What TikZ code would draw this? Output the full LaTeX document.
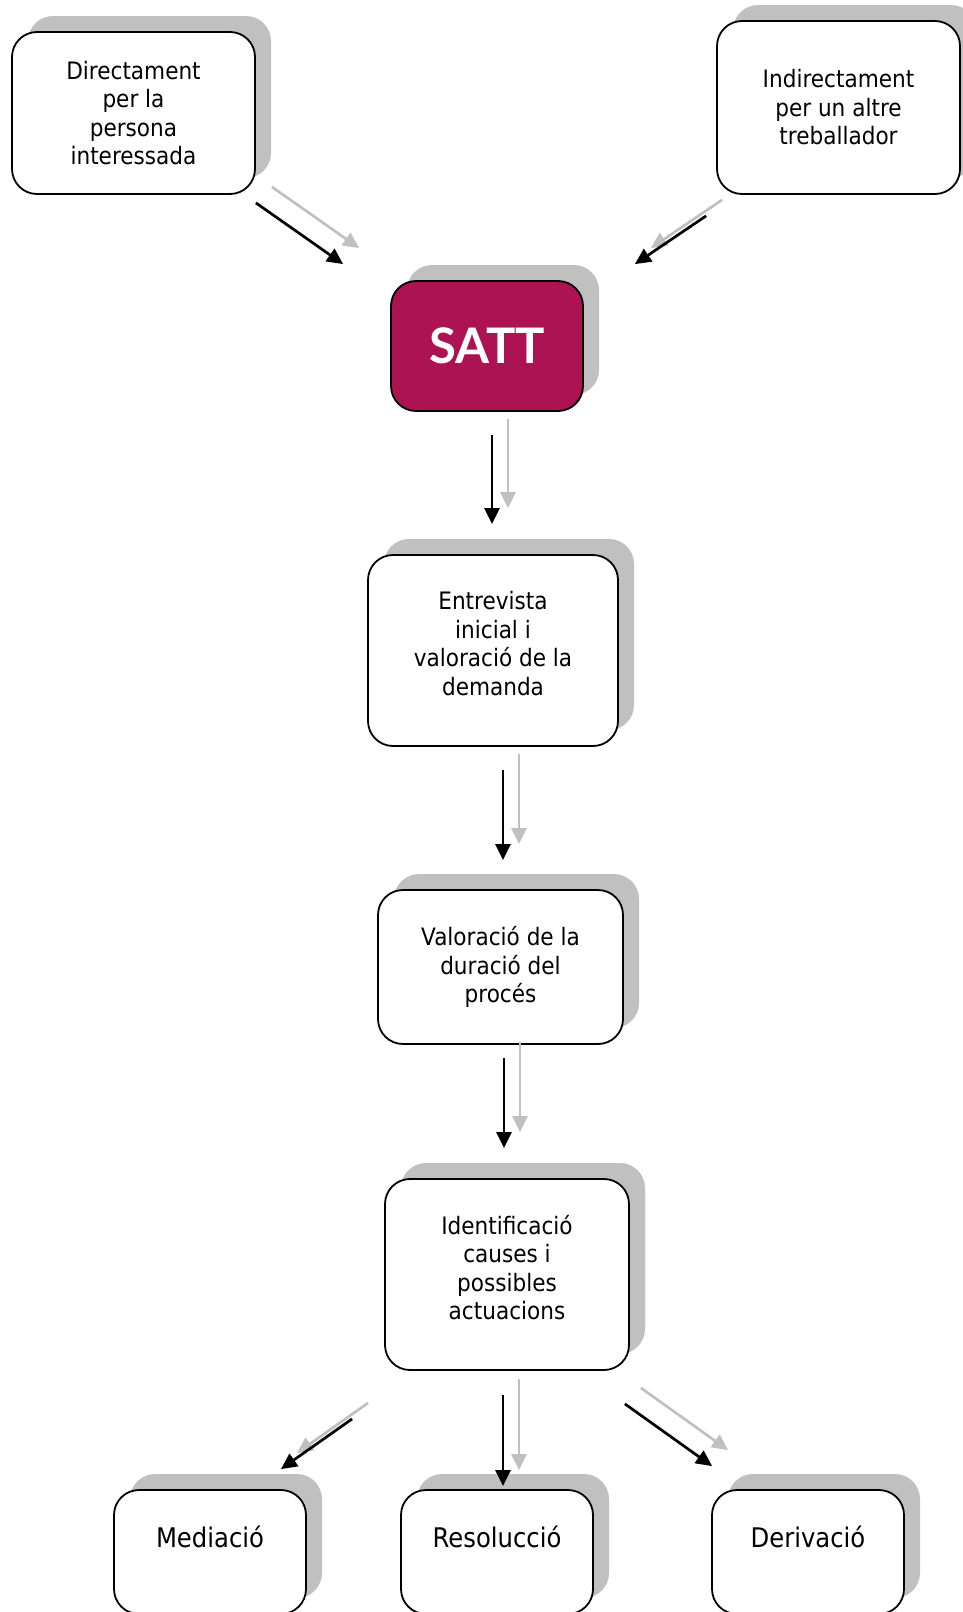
\documentclass[tikz,border=0pt]{standalone}
\usepackage{fontspec}
\setmainfont[FakeStretch=0.9]{DejaVu Sans}
\newfontfamily\sattfont{Lato}
\usepackage{tikz}
\usetikzlibrary{positioning,arrows.meta,shadows}
\definecolor{sattcol} {RGB}{173, 18, 82}
\definecolor{shadcol} {RGB}{192,192,192}

\begin{document}
\begin{tikzpicture}[
  x=1pt,y=-1pt,
  wbox/.style={rectangle,rounded corners=25pt,draw=black,fill=white,
               line width=1.8pt,align=center,inner sep=6pt,
               font={\fontsize{24}{28.5}\selectfont},
               general shadow={fill=shadcol,shadow xshift=16pt,shadow yshift=16pt}},
  sbox/.style={wbox,fill=sattcol,text=white,
               font={\sattfont\bfseries\fontsize{49}{52}\selectfont}},
  obox/.style={wbox,minimum width=192pt,minimum height=124pt,
               font={\fontsize{27}{30}\selectfont}},
  arr/.style ={-{Triangle[length=16pt,width=15pt]},line width=2.7pt,black},
  sarr/.style={arr,draw=shadcol,transform canvas={shift={(16pt,16pt)}}}
]
\useasboundingbox (0,0) rectangle (963,1612);
% top sources
\node[wbox,minimum width=243pt,minimum height=162pt] (dir) at (133.5,113)
  {Directament\\per la\\persona\\interessada};
\node[wbox,minimum width=243pt,minimum height=173pt] (ind) at (838.5,107.5)
  {Indirectament\\per un altre\\treballador};
\node[sbox,minimum width=192pt,minimum height=130pt] (satt) at (487,346)
  {\raisebox{-6pt}{SATT}};
% process
\node[wbox,minimum width=250pt,minimum height=191pt] (ent) at (493,650.5)
  {Entrevista\\inicial i\\valoració de la\\demanda\\[-14pt]\mbox{}};
\node[wbox,minimum width=245pt,minimum height=154pt] (val) at (500.5,967)
  {Valoració de la\\duració del\\procés};
\node[wbox,minimum width=244pt,minimum height=191pt] (iden) at (507,1274.5)
  {Identificació\\causes i\\possibles\\actuacions\\[-14pt]\mbox{}};
% outcomes
\node[obox] (med) at (210,1552) {Mediació\\\mbox{}};
\node[obox] (res) at (497,1552) {Resolucció\\\mbox{}};
\node[obox] (der) at (808,1552) {Derivació\\\mbox{}};
% connectors (grey shadow first)
\draw[sarr] ([shift={(0,8)}]dir.south east)--([shift={(-47,-16)}]satt.north west);
\draw[arr]  ([shift={(0,8)}]dir.south east)--([shift={(-47,-16)}]satt.north west);
\draw[sarr] ([shift={(-10,21)}]ind.south west)--([shift={(51,-16)}]satt.north east);
\draw[arr]  ([shift={(-10,21)}]ind.south west)--([shift={(51,-16)}]satt.north east);
\draw[sarr] ([shift={(5,23)}]satt.south)--([shift={(-1,-30)}]ent.north);
\draw[arr]  ([shift={(5,23)}]satt.south)--([shift={(-1,-30)}]ent.north);
\draw[sarr] ([shift={(10,23)}]ent.south)--([shift={(2.5,-29)}]val.north);
\draw[arr]  ([shift={(10,23)}]ent.south)--([shift={(2.5,-29)}]val.north);
\draw[sarr] ([shift={(3.5,13)}]val.south)--([shift={(-3,-30)}]iden.north);
\draw[arr]  ([shift={(3.5,13)}]val.south)--([shift={(-3,-30)}]iden.north);
\draw[sarr] ([shift={(-32,48)}]iden.south west)--([shift={(-26,-20)}]med.north east);
\draw[arr]  ([shift={(-32,48)}]iden.south west)--([shift={(-26,-20)}]med.north east);
\draw[sarr] ([shift={(-4,24)}]iden.south)--([shift={(6,-3)}]res.north);
\draw[arr]  ([shift={(-4,24)}]iden.south)--([shift={(6,-3)}]res.north);
\draw[sarr] ([shift={(-5,33)}]iden.south east)--([shift={(1,-23)}]der.north west);
\draw[arr]  ([shift={(-5,33)}]iden.south east)--([shift={(1,-23)}]der.north west);
\end{tikzpicture}
\end{document}
